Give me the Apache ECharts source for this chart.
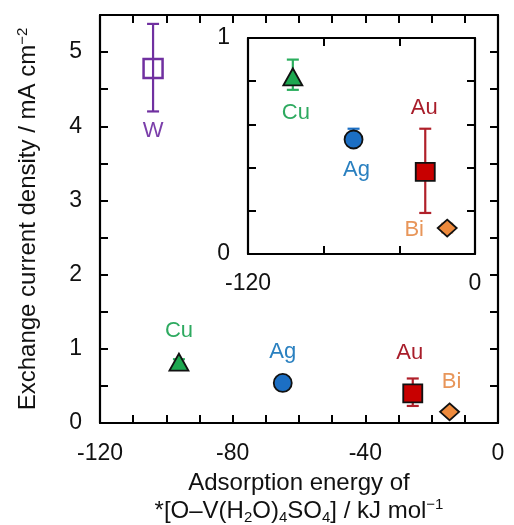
<!DOCTYPE html>
<html><head><meta charset="utf-8">
<script src="https://cdn.jsdelivr.net/npm/echarts@6/dist/echarts.min.js"></script>
<style>html,body{margin:0;padding:0;background:#fff}#c{width:514px;height:525px}</style>
</head><body><div id="c"></div>
<script>
// ---- data ----
const mainNames = ['W', 'Cu', 'Ag', 'Au', 'Bi'];
const mainX = [-104, -96.2, -64.9, -25.7, -14.6];
const mainY = [4.78, 0.82, 0.54, 0.40, 0.15];
const mainLow = [4.20, 0.78, 0.52, 0.23, 0.13];
const mainHigh = [5.38, 0.86, 0.56, 0.60, 0.17];

const insetNames = ['Cu', 'Ag', 'Au', 'Bi'];
const insetX = [-96.3, -64.2, -26.3, -14.7];
const insetY = [0.82, 0.53, 0.38, 0.12];
const insetLow = [0.76, 0.52, 0.19, 0.10];
const insetHigh = [0.90, 0.58, 0.58, 0.14];

const mainXLabels = [-120, -80, -40, 0];
const mainYLabels = [0, 1, 2, 3, 4, 5];
const insetXLabels = [-120, 0];
const insetYLabels = [0, 1];

// ---- styles ----
const FONT = "'Liberation Sans', Arial, sans-serif";
const STYLE = {
  W:  {symbol: 'rect', size: [19, 19], fill: 'rgba(0,0,0,0)', stroke: '#7030A0', bw: 2.5, bar: '#7030A0', text: '#7B3FAA'},
  Cu: {symbol: 'triangle', size: [19, 17], fill: '#1DA750', stroke: '#111', bw: 1.8, bar: '#2BAE5E', text: '#2EAA60'},
  Ag: {symbol: 'circle', size: 18, fill: '#1C6FC4', stroke: '#111', bw: 1.8, bar: '#1C6FC4', text: '#2A80C0'},
  Au: {symbol: 'rect', size: [19, 18], fill: '#C80000', stroke: '#111', bw: 1.8, bar: '#B0202A', text: '#A81D2A'},
  Bi: {symbol: 'diamond', size: [19, 17], fill: '#EE8A3C', stroke: '#111', bw: 1.8, bar: '#E8955A', text: '#E8965A'}
};
const mainOffsets = {W: [0, 63], Cu: [0, -31], Ag: [0, -31], Au: [-3, -40], Bi: [2, -30]};
const insetOffsets = {Cu: [3, 36], Ag: [3, 30], Au: [-1, -64], Bi: [-33, 2]};

function pointData(names, xs, ys, offsets) {
  return names.map((n, i) => {
    const s = STYLE[n];
    return {
      name: n,
      value: [xs[i], ys[i]],
      symbol: s.symbol,
      symbolSize: s.size,
      itemStyle: {color: s.fill, borderColor: s.stroke, borderWidth: s.bw, opacity: 1},
      label: {show: true, formatter: n, position: 'inside', offset: offsets[n],
              color: s.text, fontSize: 22, fontFamily: FONT}
    };
  });
}
function errData(xs, lo, hi) { return xs.map((x, i) => [x, lo[i], hi[i]]); }
function errRender(names) {
  return function (params, api) {
    const x = api.value(0), lo = api.value(1), hi = api.value(2);
    const p1 = api.coord([x, hi]), p2 = api.coord([x, lo]);
    const c = STYLE[names[params.dataIndex]].bar;
    const hw = 6;
    const st = {stroke: c, lineWidth: 2.2};
    return {type: 'group', children: [
      {type: 'line', shape: {x1: p1[0], y1: p1[1], x2: p2[0], y2: p2[1]}, style: st},
      {type: 'line', shape: {x1: p1[0] - hw, y1: p1[1], x2: p1[0] + hw, y2: p1[1]}, style: st},
      {type: 'line', shape: {x1: p2[0] - hw, y1: p2[1], x2: p2[0] + hw, y2: p2[1]}, style: st}
    ]};
  };
}

function axis(opt) {
  const base = {
    type: 'value', min: opt.min, max: opt.max, interval: opt.interval,
    gridIndex: opt.grid, position: opt.position, z: 10,
    axisLine: {show: true, onZero: false, lineStyle: {color: '#000', width: 2.2}},
    axisTick: {show: true, inside: true, length: 8, lineStyle: {color: '#000', width: 2}},
    splitLine: {show: false},
    axisLabel: opt.labels ? {
      show: true, fontSize: 23, color: '#111', fontFamily: FONT, margin: opt.margin || 16,
      formatter: v => opt.labels.some(l => Math.abs(l - v) < 1e-9) ? String(Math.round(v)) : ''
    } : {show: false}
  };
  return Object.assign(base, opt.extra || {});
}

const chart = echarts.init(document.getElementById('c'), null, {renderer: 'canvas'});
chart.setOption({
  backgroundColor: '#fff',
  animation: false,
  grid: [
    {left: 100, top: 15, right: 16, bottom: 102, show: false, containLabel: false, outerBoundsMode: 'none'},
    {left: 248, top: 38, width: 227, height: 216, show: true, backgroundColor: '#fff', borderWidth: 0, z: 3,
     containLabel: false, outerBoundsMode: 'none'}
  ],
  xAxis: [
    axis({grid: 0, position: 'bottom', min: -120, max: 0, interval: 10, labels: mainXLabels, margin: 19,
      extra: {name: '{a|Adsorption energy of}\n{a|*[O–V(H}{sub|2}{a|O)}{sub|4}{a|SO}{sub|4}{a|] / kJ mol}{sup|−1}',
        nameLocation: 'middle', nameGap: 46,
        nameTextStyle: {fontFamily: FONT, color: '#111', rich: {
          a: {fontSize: 24, lineHeight: 28, fontFamily: FONT, color: '#111'},
          sub: {fontSize: 15, lineHeight: 28, verticalAlign: 'bottom', fontFamily: FONT, color: '#111', padding: [6, 0, 0, 0]},
          sup: {fontSize: 15, lineHeight: 28, verticalAlign: 'top', fontFamily: FONT, color: '#111', padding: [0, 0, 6, 0]}
        }}}}),
    axis({grid: 0, position: 'top', min: -120, max: 0, interval: 10}),
    axis({grid: 1, position: 'bottom', min: -120, max: 0, interval: 40, labels: insetXLabels, margin: 18}),
    axis({grid: 1, position: 'top', min: -120, max: 0, interval: 40})
  ],
  yAxis: [
    axis({grid: 0, position: 'left', min: 0, max: 5.5, interval: 0.5, labels: mainYLabels, margin: 18,
      extra: {name: '{a|Exchange current density / mA cm}{sup|−2}', nameLocation: 'middle', nameGap: 58,
        nameTextStyle: {fontFamily: FONT, color: '#111', rich: {
          a: {fontSize: 24, lineHeight: 27, fontFamily: FONT, color: '#111'},
          sup: {fontSize: 15, lineHeight: 27, verticalAlign: 'top', fontFamily: FONT, color: '#111', padding: [0, 0, 6, 0]}
        }}}}),
    axis({grid: 0, position: 'right', min: 0, max: 5.5, interval: 0.5}),
    axis({grid: 1, position: 'left', min: 0, max: 1, interval: 0.2, labels: insetYLabels, margin: 18}),
    axis({grid: 1, position: 'right', min: 0, max: 1, interval: 0.2})
  ],
  series: [
    {type: 'custom', xAxisIndex: 0, yAxisIndex: 0, renderItem: errRender(mainNames),
     data: errData(mainX, mainLow, mainHigh), encode: {x: 0, y: [1, 2]}, z: 2, clip: false},
    {type: 'scatter', xAxisIndex: 0, yAxisIndex: 0, data: pointData(mainNames, mainX, mainY, mainOffsets), z: 4},
    {type: 'custom', xAxisIndex: 2, yAxisIndex: 2, renderItem: errRender(insetNames),
     data: errData(insetX, insetLow, insetHigh), encode: {x: 0, y: [1, 2]}, z: 5, clip: false},
    {type: 'scatter', xAxisIndex: 2, yAxisIndex: 2, data: pointData(insetNames, insetX, insetY, insetOffsets), z: 6}
  ]
});
</script>
</body></html>
